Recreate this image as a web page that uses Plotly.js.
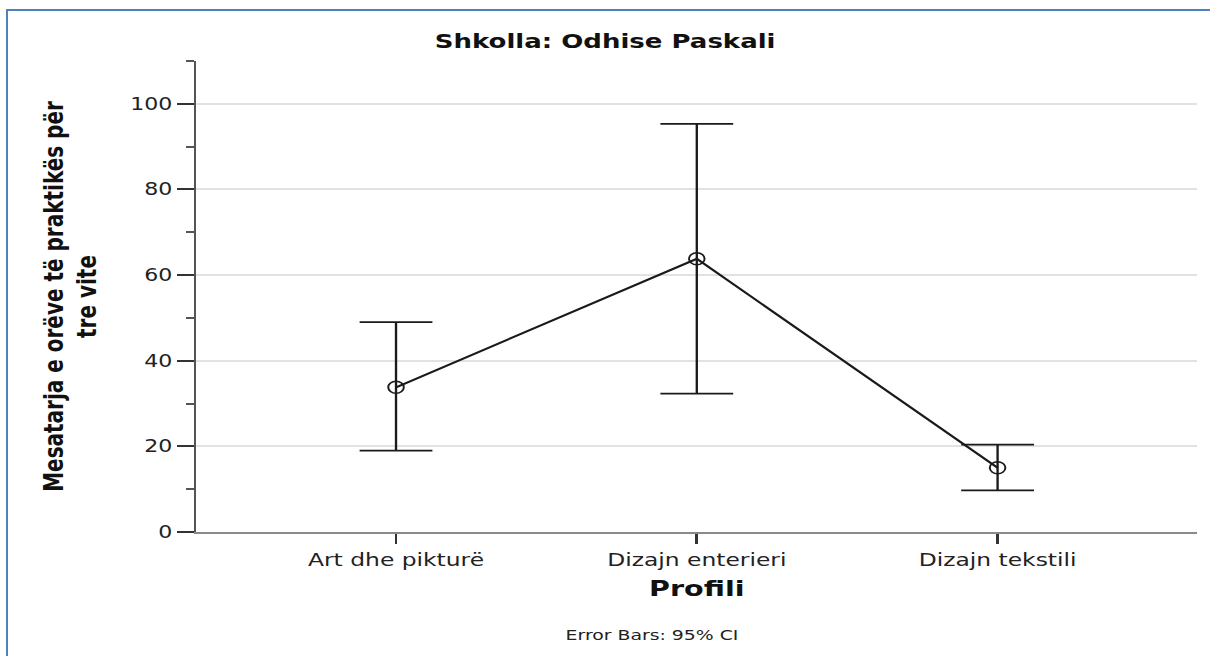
<!DOCTYPE html>
<html>
<head>
<meta charset="utf-8">
<script src="https://cdn.plot.ly/plotly-3.0.1.min.js"></script>
<style>
  html, body { margin: 0; padding: 0; background: #fff; overflow: hidden; }
  /* the reference is stretched sideways, so the plot is drawn narrower and scaled */
  #chart { width: 931px; height: 656px; transform: scaleX(1.3); transform-origin: 0 0; }
  #frame {
    position: absolute; left: 6px; top: 9px; width: 1300px; height: 700px;
    border-top: 2px solid #4f81bd; border-left: 2px solid #4f81bd;
    pointer-events: none;
  }
</style>
</head>
<body>
<div id="chart"></div>
<div id="frame"></div>
<script>
// chart data
const profiles = ['Art dhe pikturë', 'Dizajn enterieri', 'Dizajn tekstili'];
const means = [33.8, 63.8, 15.0];
const ciUpper = [49.0, 95.3, 20.4];
const ciLower = [19.0, 32.3, 9.7];
const yTicks = [0, 20, 40, 60, 80, 100];

const fontFam = 'DejaVu Sans, Verdana, sans-serif';

const trace = {
    x: [0, 1, 2],
    y: means,
    type: 'scatter',
    mode: 'lines+markers',
    line: { color: '#1a1a1a', width: 2 },
    marker: { symbol: 'circle-open', size: 12, color: '#1a1a1a', line: { width: 1.5 } },
    error_y: {
        type: 'data',
        symmetric: false,
        array: ciUpper.map((u, i) => u - means[i]),
        arrayminus: ciLower.map((l, i) => means[i] - l),
        color: '#1a1a1a',
        thickness: 1.8,
        width: 28
    },
    hoverinfo: 'y'
};

const layout = {
    width: 931,
    height: 656,
    margin: { l: 151, r: 10, t: 61, b: 124 },
    paper_bgcolor: '#fff',
    plot_bgcolor: '#fff',
    showlegend: false,
    font: { family: fontFam, color: '#222' },
    title: {
        text: '<b>Shkolla: Odhise Paskali</b>',
        font: { size: 20, color: '#111' },
        x: 0.5, xref: 'container', xanchor: 'center',
        y: 1 - 41 / 656, yref: 'container', yanchor: 'middle'
    },
    xaxis: {
        range: [-0.664, 2.664],
        tickmode: 'array',
        tickvals: [0, 1, 2],
        ticktext: profiles,
        tickfont: { size: 18, color: '#222' },
        ticks: 'outside', ticklen: 10, tickwidth: 2, tickcolor: '#333',
        showgrid: false, zeroline: false,
        showline: true, linecolor: '#8a8a8a', linewidth: 2,
        title: { text: '<b>Profili</b>', font: { size: 22, color: '#111' }, standoff: 12 },
        automargin: false,
        fixedrange: true
    },
    yaxis: {
        range: [0, 110],
        tickmode: 'array',
        tickvals: yTicks,
        tickfont: { size: 17, color: '#222' },
        ticks: 'outside', ticklen: 13, tickwidth: 2, tickcolor: '#333',
        minor: { dtick: 10, ticks: 'outside', ticklen: 6, tickwidth: 1.5, tickcolor: '#555', showgrid: false },
        showgrid: true, gridcolor: '#e2e2e2', gridwidth: 1.5,
        zeroline: false,
        showline: true, linecolor: '#555', linewidth: 2,
        title: {
            text: '<b>Mesatarja e orëve të praktikës për<br>tre vite</b>',
            font: { size: 20, color: '#111' },
            standoff: 20
        },
        automargin: false,
        fixedrange: true
    },
    annotations: [
        {
            text: 'Error Bars: 95% CI',
            xref: 'paper', yref: 'paper',
            x: (501.5 - 151) / 770, y: (532 - 635) / 471,
            xanchor: 'center', yanchor: 'middle',
            showarrow: false,
            font: { size: 14.5, color: '#222' }
        }
    ]
};

Plotly.newPlot('chart', [trace], layout, { displayModeBar: false, responsive: false });
</script>
</body>
</html>
